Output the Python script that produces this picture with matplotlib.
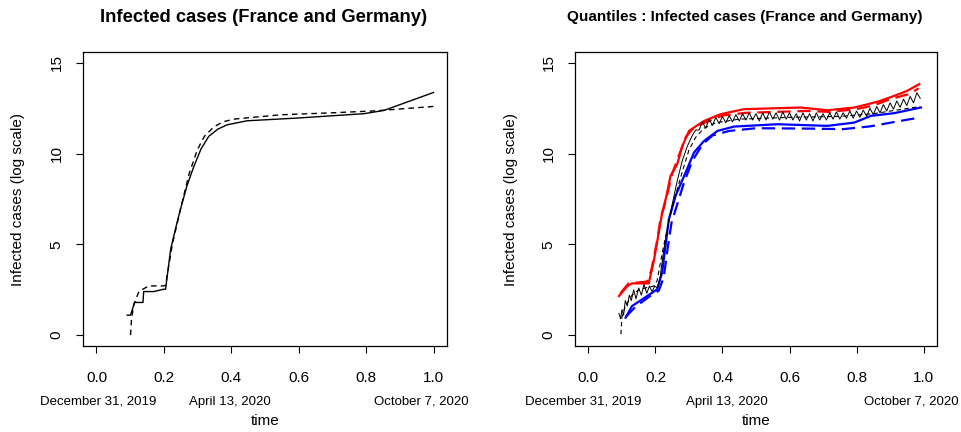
import numpy as np
import matplotlib
matplotlib.use("Agg")
import matplotlib.pyplot as plt
import matplotlib.transforms as mtransforms

plt.rcParams['font.family'] = ['Liberation Sans', 'DejaVu Sans']

# ---- left panel : observed (solid) and fitted (dashed) curve ----
t_obs = [0.091, 0.101, 0.113, 0.138, 0.140, 0.170, 0.200, 0.205, 0.220, 0.235,
         0.249, 0.268, 0.289, 0.310, 0.333, 0.360, 0.388, 0.447, 0.596, 0.793,
         0.853, 1.0]
y_obs = [1.10, 1.10, 1.80, 1.80, 2.40, 2.40, 2.53, 2.53, 4.73, 5.90,
         6.92, 8.20, 9.30, 10.25, 10.95, 11.35, 11.59, 11.81, 11.96, 12.20,
         12.38, 13.37]

t_fit = [0.101, 0.104, 0.111, 0.126, 0.135, 0.155, 0.200, 0.205, 0.225, 0.250,
         0.275, 0.299, 0.320, 0.348, 0.375, 0.407, 0.546, 0.700, 0.830, 1.0]
y_fit = [0.0, 0.9, 1.7, 2.4, 2.5, 2.71, 2.71, 2.75, 5.0, 7.0,
         8.9, 10.2, 10.95, 11.47, 11.75, 11.9, 12.14, 12.25, 12.36, 12.6]

# ---- right panel : quantiles ----
t_up = [0.091, 0.116, 0.130, 0.180, 0.195, 0.210, 0.220, 0.232, 0.245, 0.265,
        0.280, 0.300, 0.320, 0.345, 0.394, 0.464, 0.633, 0.713, 0.793, 0.833,
        0.870, 0.912, 0.950, 0.987]
y_up = [2.15, 2.70, 2.85, 2.85, 4.08, 5.65, 6.75, 7.60, 8.77, 9.42,
        10.40, 11.25, 11.50, 11.80, 12.17, 12.45, 12.54, 12.39, 12.54, 12.72,
        12.90, 13.18, 13.45, 13.83]

t_up2 = [0.095, 0.120, 0.175, 0.188, 0.205, 0.215, 0.228, 0.250, 0.270, 0.290,
         0.310, 0.340, 0.400, 0.470, 0.560, 0.650, 0.720, 0.800, 0.850, 0.900,
         0.960, 0.985]
y_up2 = [2.30, 2.85, 2.95, 3.60, 5.20, 6.40, 7.20, 8.90, 9.90, 10.90,
         11.35, 11.65, 12.10, 12.25, 12.30, 12.35, 12.30, 12.45, 12.65, 13.00,
         13.30, 13.60]

t_low = [0.111, 0.130, 0.175, 0.205, 0.220, 0.230, 0.240, 0.260, 0.290, 0.315,
         0.345, 0.385, 0.434, 0.564, 0.713, 0.793, 0.843, 0.912, 0.992]
y_low = [0.96, 1.60, 2.15, 2.52, 3.44, 4.91, 6.38, 7.67, 8.96, 10.06,
         10.70, 11.25, 11.49, 11.62, 11.53, 11.71, 12.08, 12.23, 12.54]

t_low2 = [0.111, 0.140, 0.180, 0.210, 0.225, 0.235, 0.248, 0.265, 0.285, 0.310,
          0.340, 0.370, 0.420, 0.500, 0.650, 0.760, 0.840, 0.900, 0.960, 0.985]
y_low2 = [1.00, 1.55, 2.10, 2.45, 3.20, 4.60, 6.20, 7.20, 8.40, 9.60,
          10.50, 11.00, 11.25, 11.40, 11.38, 11.35, 11.50, 11.70, 11.90, 11.97]

t_med = [0.091, 0.096, 0.100, 0.105, 0.110, 0.116, 0.122, 0.128, 0.135, 0.142,
         0.150, 0.158, 0.166, 0.174, 0.182, 0.190, 0.198, 0.206, 0.214, 0.224,
         0.236, 0.250, 0.265, 0.280, 0.295, 0.310, 0.320,
         0.33, 0.34, 0.35, 0.36, 0.37, 0.38, 0.39, 0.40, 0.41, 0.42,
         0.43, 0.44, 0.45, 0.46, 0.47, 0.48, 0.49, 0.50, 0.51, 0.52,
         0.53, 0.54, 0.55, 0.56, 0.57, 0.58, 0.59, 0.60, 0.61, 0.62,
         0.63, 0.64, 0.65, 0.66, 0.67, 0.68, 0.69, 0.70, 0.71, 0.72,
         0.73, 0.74, 0.75, 0.76, 0.77, 0.78, 0.79, 0.80, 0.81, 0.82,
         0.83, 0.84, 0.85, 0.86, 0.87, 0.88, 0.89, 0.90, 0.91, 0.92,
         0.93, 0.94, 0.95, 0.96, 0.97, 0.98, 0.99]
y_med = [1.20, 0.90, 1.40, 1.10, 1.90, 1.60, 2.20, 1.90, 2.50, 2.00,
         2.60, 2.20, 2.80, 2.30, 2.70, 2.40, 2.70, 2.60, 3.20, 4.60,
         5.90, 7.20, 8.50, 9.60, 10.40, 11.00, 11.30,
         11.30, 11.75, 11.40, 11.90, 11.55, 12.00, 11.65, 12.05, 11.70, 12.10,
         11.75, 12.15, 11.80, 12.20, 11.85, 12.25, 11.85, 12.20, 11.80, 12.25,
         11.85, 12.30, 11.90, 12.25, 11.85, 12.30, 11.90, 12.25, 11.85, 12.20,
         11.80, 12.25, 11.85, 12.20, 11.80, 12.25, 11.85, 12.20, 11.85, 12.25,
         11.90, 12.30, 11.90, 12.25, 11.95, 12.35, 11.95, 12.35, 12.00, 12.40,
         12.05, 12.50, 12.15, 12.60, 12.25, 12.70, 12.35, 12.80, 12.45, 12.90,
         12.55, 13.00, 12.65, 13.15, 12.80, 13.35, 13.05]

t_mean = [0.097, 0.100, 0.110, 0.130, 0.150, 0.170, 0.195, 0.205, 0.220, 0.240,
          0.260, 0.280, 0.300, 0.320, 0.345, 0.380, 0.450, 0.600, 0.750, 0.850,
          0.920, 0.990]
y_mean = [0.05, 1.00, 1.60, 2.20, 2.50, 2.60, 2.70, 3.00, 4.50, 6.30,
          7.70, 9.00, 10.20, 10.90, 11.40, 11.70, 11.90, 12.00, 12.05, 12.20,
          12.40, 12.60]

xticks = [0.0, 0.2, 0.4, 0.6, 0.8, 1.0]
yticks = [0, 5, 10, 15]
date_labels = ['December 31, 2019', 'April 13, 2020', 'October 7, 2020']
date_pos_left = [0.006, 0.395, 0.964]
date_pos_right = [-0.015, 0.412, 0.962]

W, H = 961, 432
fig = plt.figure(figsize=(W / 100, H / 100), dpi=100)
ax1 = fig.add_axes([83 / W, 1 - 346 / H, 364 / W, 294 / H])
ax2 = fig.add_axes([575 / W, 1 - 346 / H, 362 / W, 294 / H])

fs = 11


def style(ax, dates, dpos):
    ax.set_xlim(-0.04, 1.04)
    ax.set_ylim(-0.6, 15.6)
    ax.set_xticks(xticks)
    ax.set_xticklabels([f'{v:.1f}' for v in xticks], fontsize=fs)
    ax.set_yticks(yticks)
    ax.set_yticklabels([str(v) for v in yticks], fontsize=fs,
                       rotation=90, va='center')
    ax.tick_params(direction='out', length=5, width=0.8)
    ax.tick_params(axis='x', pad=13)
    ax.tick_params(axis='y', pad=9)
    for s in ax.spines.values():
        s.set_linewidth(0.9)
    ax.set_ylabel('Infected cases (log scale)', fontsize=fs)
    ax.yaxis.set_label_coords(-0.158, 0.5)
    ax.set_xlabel('time', fontsize=fs, va='center')
    ax.xaxis.set_label_coords(0.5, -0.255)
    tr = mtransforms.blended_transform_factory(ax.transData, ax.transAxes)
    for lab, p in zip(dates, dpos):
        ax.text(p, -0.19, lab, transform=tr, ha='center', va='center',
                fontsize=9.5)


ax1.plot(t_obs, y_obs, color='black', lw=1.0)
ax1.plot(t_fit, y_fit, color='black', lw=1.0, dashes=(4, 3))
style(ax1, date_labels, date_pos_left)

ax2.plot(t_up, y_up, color='red', lw=1.6)
ax2.plot(t_up2, y_up2, color='red', lw=1.6, dashes=(6, 3))
ax2.plot(t_low, y_low, color='blue', lw=1.6)
ax2.plot(t_low2, y_low2, color='blue', lw=1.6, dashes=(6, 3))
ax2.plot(t_med, y_med, color='black', lw=0.7)
ax2.plot(t_mean, y_mean, color='black', lw=0.8, dashes=(4, 3))
style(ax2, date_labels, date_pos_right)

fig.text(264 / W, 1 - 17 / H, 'Infected cases (France and Germany)',
         ha='center', va='center', fontsize=13.2, fontweight='bold')
fig.text(745 / W, 1 - 17 / H, 'Quantiles : Infected cases (France and Germany)',
         ha='center', va='center', fontsize=11, fontweight='bold')

fig.savefig('out.png', dpi=100)
